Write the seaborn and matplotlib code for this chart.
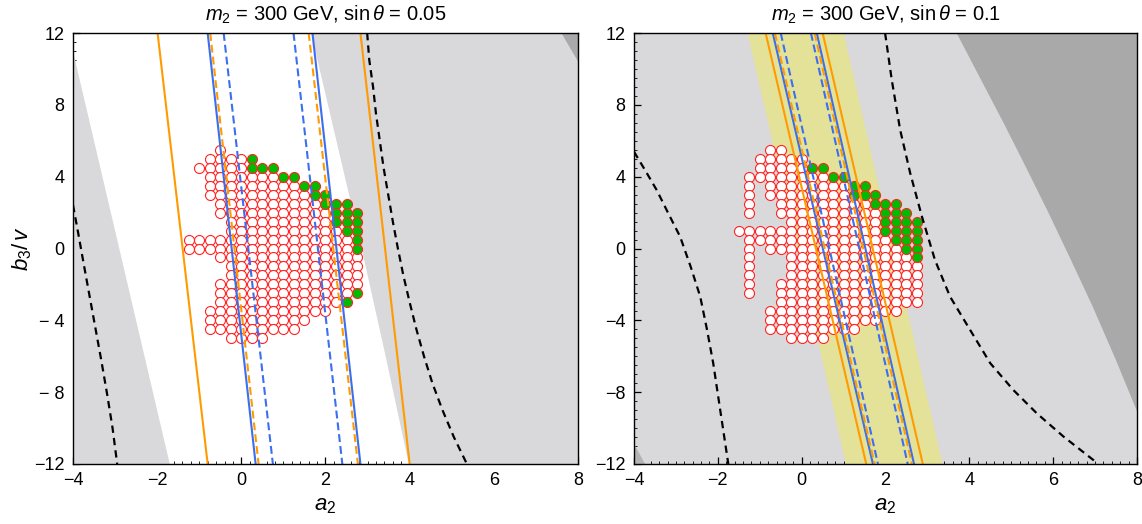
import numpy as np
import pandas as pd
import matplotlib
matplotlib.use('Agg')
import matplotlib.pyplot as plt
import seaborn as sns

sns.set_theme(style='white')
plt.rcParams['font.family'] = ['Liberation Sans', 'DejaVu Sans']
plt.rcParams['mathtext.fontset'] = 'custom'
plt.rcParams['mathtext.rm'] = 'Liberation Sans'
plt.rcParams['mathtext.it'] = 'Liberation Sans:italic'
plt.rcParams['text.color'] = 'black'
plt.rcParams['axes.labelcolor'] = 'black'
plt.rcParams['xtick.color'] = 'black'
plt.rcParams['ytick.color'] = 'black'

# ---------------- data ----------------
B3_ENDS = [12, -12]
TITLES = [r'$m_2$ = 300 GeV, sin$\,\theta$ = 0.05', r'$m_2$ = 300 GeV, sin$\,\theta$ = 0.1']
X_TICKS = [-4, -2, 0, 2, 4, 6, 8]
Y_TICKS = [12, 8, 4, 0, -4, -8, -12]
Y_TICK_LABELS_1 = ['12', '8', '4', '0', '\u2212 4', '\u2212 8', '\u221212']
Y_TICK_LABELS_2 = ['12', '8', '4', '0', '\u22124', '\u22128', '\u221212']

# straight lines: a2 at b3=12 and at b3=-12
p1_orange_solid = [(-1.99, -0.80), (2.83, 4.00)]
p1_blue_solid = [(-0.80, 0.34), (1.69, 2.83)]
p1_orange_dash = [(-0.74, 0.41), (1.60, 2.77)]
p1_blue_dash = [(-0.42, 0.75), (1.24, 2.40)]

p2_orange_solid = [(-0.86, 1.54), (0.50, 2.89)]
p2_blue_solid = [(-0.69, 1.70), (0.36, 2.68)]
p2_orange_dash = [(-0.64, 1.74), (0.31, 2.63)]
p2_blue_dash = [(-0.50, 1.82), (0.22, 2.53)]
p2_yellow_band = [(-1.30, 1.05), (0.99, 3.35)]

# black dashed curves (a2, b3)
p1_black_left_a2 = [-4.0, -3.88, -3.75, -3.61, -3.47, -3.33, -3.19, -3.06, -2.95]
p1_black_left_b3 = [2.42, 0.9, -0.8, -2.6, -4.4, -6.2, -8.1, -10.0, -12.0]
p1_black_right_a2 = [2.99, 3.04, 3.13, 3.20, 3.29, 3.38, 3.49, 3.60, 3.72, 3.85, 4.00, 4.16, 4.34, 4.54, 4.78, 5.05, 5.36]
p1_black_right_b3 = [12.0, 10.5, 9.0, 7.5, 6.0, 4.5, 3.0, 1.5, 0.0, -1.5, -3.0, -4.5, -6.0, -7.5, -9.0, -10.5, -12.0]
p2_black_left_a2 = [-4.0, -3.72, -3.46, -3.18, -2.90, -2.65, -2.42, -2.26, -2.11, -1.93, -1.75]
p2_black_left_b3 = [5.39, 4.3, 3.26, 1.95, 0.66, -1.0, -2.68, -4.5, -6.39, -9.2, -12.0]
p2_black_right_a2 = [1.99, 2.15, 2.35, 2.59, 2.87, 3.18, 3.54, 4.02, 4.50, 5.05, 5.61, 6.25, 6.96, 7.05]
p2_black_right_b3 = [12.0, 9.38, 6.60, 4.19, 1.77, -0.64, -2.68, -4.54, -6.39, -7.88, -9.18, -10.48, -11.78, -12.0]

# excluded regions (boundary a2 values at given b3)
p1_gray_left_b3 = [10.9, -12.0]
p1_gray_left_a2 = [-4.0, -1.71]
p1_gray_right_b3 = [12.0, 6.0, 0.0, -6.0, -12.0]
p1_gray_right_a2 = [1.65, 2.25, 2.85, 3.42, 3.97]
p1_dark_b3 = [12.0, 10.4]
p1_dark_a2 = [7.6, 8.0]
p2_dark_b3 = [12.0, 9.5, 7.0, 4.5, 2.0, -0.6, -3.2, -6.1, -9.1]
p2_dark_a2 = [3.69, 4.25, 4.81, 5.35, 5.88, 6.41, 6.93, 7.47, 8.0]
p2_dark_corner_b3 = [-10.9, -12.0]
p2_dark_corner_a2 = [-4.0, -3.74]

# scan points: rows of b3, white segments (a2 ranges), green points
p1_rows_b3 = [5.5, 5.0, 4.5, 4.0, 3.5, 3.0, 2.5, 2.0, 1.5, 1.0, 0.5, 0.0,
              -0.5, -1.0, -1.5, -2.0, -2.5, -3.0, -3.5, -4.0, -4.5, -5.0]
p1_white = [[(-0.5, -0.5)], [(-0.75, 0.0)], [(-1.0, 0.0)], [(-0.75, 0.75)],
            [(-0.75, 1.25)], [(-0.75, 1.5)], [(-0.5, 1.75)], [(-0.5, 2.0)],
            [(-0.25, 2.0)], [(-0.25, 2.25)], [(-1.25, 2.5)], [(-1.25, 2.5)],
            [(-0.5, 2.75)], [(-0.25, 2.75)], [(-0.25, 2.75)], [(-0.5, 2.75)],
            [(-0.5, 2.5)], [(-0.5, 2.25)], [(-0.75, 2.0)], [(-0.75, 1.5)],
            [(-0.75, 1.25)], [(-0.25, 0.5)]]
p1_green = [[], [0.25], [0.25, 0.5, 0.75], [1.0, 1.25], [1.5, 1.75], [1.75, 2.0],
            [2.0, 2.25, 2.5], [2.25, 2.5, 2.75], [2.25, 2.5, 2.75], [2.5, 2.75],
            [2.75], [2.75], [], [], [], [], [2.75], [2.5], [], [], [], []]

p2_rows_b3 = [5.5, 5.0, 4.5, 4.0, 3.5, 3.0, 2.5, 2.0, 1.5, 1.0, 0.5, 0.0,
              -0.5, -1.0, -1.5, -2.0, -2.5, -3.0, -3.5, -4.0, -4.5, -5.0]
p2_white = [[(-0.75, -0.5)], [(-1.0, 0.0)], [(-1.0, 0.0)], [(-1.25, 0.5)],
            [(-1.25, -1.25), (-0.75, 1.0)], [(-1.25, -1.25), (-0.75, 1.0)],
            [(-1.25, -1.25), (-0.5, 1.5)], [(-1.25, -1.25), (-0.5, 1.75)],
            [(-0.25, 1.75)], [(-1.5, 1.75)], [(-1.25, 2.0)],
            [(-1.25, -1.25), (-0.75, 2.25)], [(-1.25, -1.25), (-0.25, 2.5)],
            [(-1.25, -1.25), (-0.25, 2.75)], [(-1.25, -1.25), (-0.25, 2.75)],
            [(-1.25, -1.25), (-0.5, 2.75)], [(-1.25, -1.25), (-0.5, 2.75)],
            [(-0.5, 2.75)], [(-0.75, 2.25)], [(-0.75, 1.75)], [(-0.75, 1.25)],
            [(-0.25, 0.5)]]
p2_green = [[], [], [0.25, 0.5], [0.75, 1.0], [1.25, 1.5], [1.25, 1.5, 1.75],
            [1.75, 2.0, 2.25], [2.0, 2.25, 2.5], [2.0, 2.25, 2.5, 2.75],
            [2.0, 2.25, 2.5, 2.75], [2.25, 2.5, 2.75], [2.5, 2.75], [2.75],
            [], [], [], [], [], [], [], [], []]

# ---------------- styling ----------------
LIGHT = '#d9d8da'
DARK = '#a9a9a9'
YELLOW = '#e4e298'
ORANGE = '#ff9b00'
BLUE = '#3c6ef0'
GREEN = '#00bb00'
RED = '#ff2424'
DASH = (0, (3.8, 1.9))


def points_frame(rows, white, green):
    recs = []
    for b3, segs, gs in zip(rows, white, green):
        for lo, hi in segs:
            n = int(round((hi - lo) / 0.25)) + 1
            for k in range(n):
                recs.append((lo + 0.25 * k, b3, 'pass'))
        for g in gs:
            recs.append((g, b3, 'ok'))
    return pd.DataFrame(recs, columns=['a2', 'b3', 'kind'])


def draw_line_pairs(ax, pairs, color, ls, lw=1.5, z=5):
    for top, bot in pairs:
        d = pd.DataFrame({'a2': [top, bot], 'b3': B3_ENDS})
        sns.lineplot(data=d, x='a2', y='b3', sort=False, estimator=None, ax=ax,
                     color=color, linestyle=ls, linewidth=lw, zorder=z)


def draw_curve(ax, a2, b3):
    d = pd.DataFrame({'a2': a2, 'b3': b3})
    sns.lineplot(data=d, x='a2', y='b3', sort=False, estimator=None, ax=ax,
                 color='black', linestyle=(0, (3.3, 2.3)), linewidth=1.6, zorder=6)


def draw_points(ax, df):
    w = df[df.kind == 'pass']
    g = df[df.kind == 'ok']
    sns.scatterplot(data=w, x='a2', y='b3', ax=ax, color='white', edgecolor=RED,
                    s=52, linewidth=0.8, zorder=3)
    sns.scatterplot(data=g, x='a2', y='b3', ax=ax, color=GREEN, edgecolor=RED,
                    s=52, linewidth=0.8, zorder=4)


fig = plt.figure(figsize=(11.42, 5.24), dpi=100)
W, H = 1142, 524
ax1 = fig.add_axes([73 / W, 1 - 464 / H, 505 / W, 431 / H])
ax2 = fig.add_axes([634 / W, 1 - 464 / H, 503 / W, 431 / H])

yy = np.array([12, -12])

# panel 1 regions
ax1.set_facecolor('white')
ax1.fill_betweenx(p1_gray_left_b3, [-4, -4], p1_gray_left_a2, color=LIGHT, lw=0, zorder=1)
ax1.fill_betweenx(p1_gray_right_b3, p1_gray_right_a2, [8] * len(p1_gray_right_a2), color=LIGHT, lw=0, zorder=1)
ax1.fill_betweenx(p1_dark_b3, p1_dark_a2, [8, 8], color=DARK, lw=0, zorder=1.5)

# panel 2 regions
ax2.set_facecolor(LIGHT)
ax2.fill_betweenx(yy, [p2_yellow_band[0][0], p2_yellow_band[0][1]],
                  [p2_yellow_band[1][0], p2_yellow_band[1][1]], color=YELLOW, lw=0, zorder=1)
ax2.fill_betweenx(p2_dark_b3, p2_dark_a2, [8] * len(p2_dark_a2), color=DARK, lw=0, zorder=1.5)
ax2.fill_betweenx(p2_dark_corner_b3, [-4, -4], p2_dark_corner_a2, color='#b4b4b4', lw=0, zorder=1.5)

for ax, df in [(ax1, points_frame(p1_rows_b3, p1_white, p1_green)),
               (ax2, points_frame(p2_rows_b3, p2_white, p2_green))]:
    draw_points(ax, df)

draw_line_pairs(ax1, p1_orange_solid, ORANGE, '-')
draw_line_pairs(ax1, p1_blue_solid, BLUE, '-')
draw_line_pairs(ax1, p1_orange_dash, ORANGE, DASH)
draw_line_pairs(ax1, p1_blue_dash, BLUE, DASH)
draw_curve(ax1, p1_black_left_a2, p1_black_left_b3)
draw_curve(ax1, p1_black_right_a2, p1_black_right_b3)

draw_line_pairs(ax2, p2_orange_solid, ORANGE, '-')
draw_line_pairs(ax2, p2_blue_solid, BLUE, '-')
draw_line_pairs(ax2, p2_orange_dash, ORANGE, DASH)
draw_line_pairs(ax2, p2_blue_dash, BLUE, DASH)
draw_curve(ax2, p2_black_left_a2, p2_black_left_b3)
draw_curve(ax2, p2_black_right_a2, p2_black_right_b3)

for i, ax in enumerate([ax1, ax2]):
    ax.set_xlim(-4, 8)
    ax.set_ylim(-12, 12)
    ax.set_xticks(X_TICKS)
    ax.set_xticks(np.arange(-4, 8.01, 0.2), minor=True)
    ax.set_yticks(Y_TICKS)
    ax.set_yticks(np.arange(-12, 12.01, 0.5), minor=True)
    ax.set_yticklabels(Y_TICK_LABELS_1 if i == 0 else Y_TICK_LABELS_2)
    ax.tick_params(which='major', direction='in', length=5, width=0.9, labelsize=13,
                   colors='black', bottom=True, left=True, pad=6)
    ax.tick_params(which='minor', direction='in', length=2.5, width=0.6,
                   bottom=True, left=True)
    for s in ax.spines.values():
        s.set_color('black')
        s.set_linewidth(1.0)
        s.set_zorder(10)
    ax.set_title(TITLES[i], fontsize=14.5, pad=9, color='black')
    ax.set_xlabel(r'$a_2$', fontsize=16, labelpad=4, color='black')
    ax.set_ylabel('')

ax1.set_ylabel(r'$b_3/\,v$', fontsize=16, labelpad=0, color='black')

fig.savefig('out.png', dpi=100)
